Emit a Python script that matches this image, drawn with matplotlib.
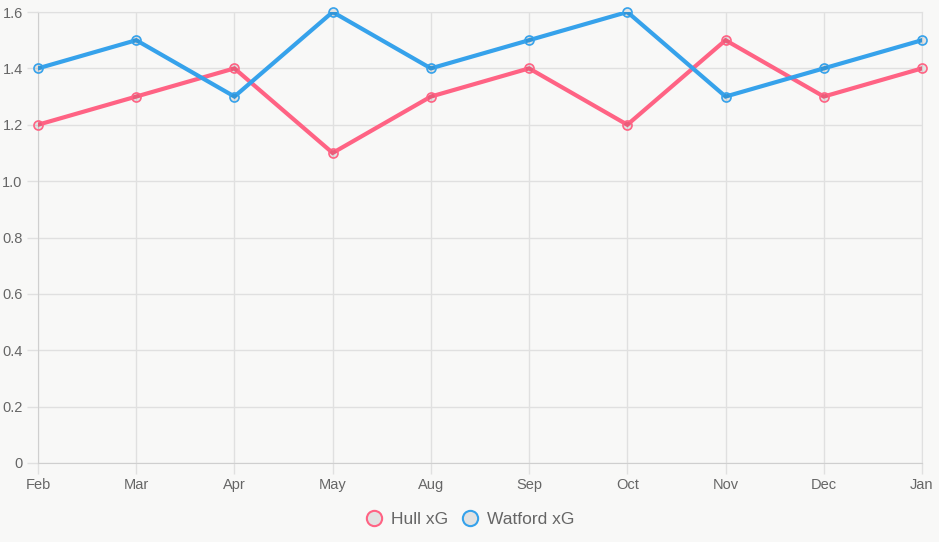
import matplotlib.pyplot as plt
from matplotlib.lines import Line2D

plt.rcParams['font.family'] = ['Liberation Sans', 'DejaVu Sans']

months = ['Feb', 'Mar', 'Apr', 'May', 'Aug', 'Sep', 'Oct', 'Nov', 'Dec', 'Jan']
hull_xg = [1.2, 1.3, 1.4, 1.1, 1.3, 1.4, 1.2, 1.5, 1.3, 1.4]
watford_xg = [1.4, 1.5, 1.3, 1.6, 1.4, 1.5, 1.6, 1.3, 1.4, 1.5]
y_ticks = [0, 0.2, 0.4, 0.6, 0.8, 1.0, 1.2, 1.4, 1.6]
y_labels = ['0', '0.2', '0.4', '0.6', '0.8', '1.0', '1.2', '1.4', '1.6']

bg = '#f8f8f7'
grid_c = '#e0e0e0'
pink = '#ff6384'
blue = '#36a2eb'

fig = plt.figure(figsize=(9.39, 5.42), dpi=100, facecolor=bg)
ax = fig.add_axes([38 / 939, 1 - 463 / 542, (922 - 38) / 939, (463 - 12) / 542])
ax.set_facecolor(bg)

x = list(range(len(months)))
for vals, col, name in [(hull_xg, pink, 'Hull xG'), (watford_xg, blue, 'Watford xG')]:
    ax.plot(x, vals, color=col, lw=3, zorder=3, solid_joinstyle='miter')
    ax.plot(x, vals, ls='none', marker='o', ms=6.5, mew=1.2,
            mec=col, mfc=(0, 0, 0, 0.08), zorder=4, clip_on=False)

ax.set_xlim(0, len(months) - 1)
ax.set_ylim(0, 1.6)
ax.set_xticks(x)
ax.set_xticklabels(months)
ax.set_yticks(y_ticks)
ax.set_yticklabels(y_labels)
ax.grid(True, color=grid_c, lw=1)
ax.set_axisbelow(True)
for s in ['top', 'right']:
    ax.spines[s].set_color(grid_c)
for s in ['left', 'bottom']:
    ax.spines[s].set_color('#cfcfcf')
ax.tick_params(axis='both', length=8, width=1, color=grid_c,
               labelcolor='#666666', labelsize=10.5, pad=3)

handles = [Line2D([], [], ls='none', marker='o', ms=11, mew=1.5, mec=c,
                  mfc='#e2e2e2', label=n)
           for c, n in [(pink, 'Hull xG'), (blue, 'Watford xG')]]
fig.legend(handles=handles, loc='center', bbox_to_anchor=(470 / 939, 1 - 519 / 542),
           ncol=2, frameon=False, fontsize=12.5, labelcolor='#666666',
           handletextpad=0.5, columnspacing=0.75, handlelength=1.0)

fig.savefig('out.png', dpi=100, facecolor=bg)
